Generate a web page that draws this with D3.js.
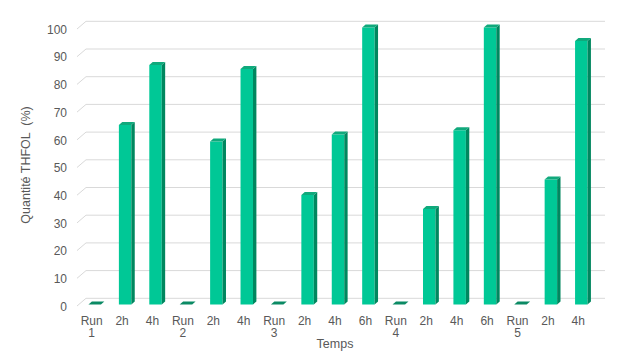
<!DOCTYPE html>
<html><head><meta charset="utf-8">
<script src="https://cdn.jsdelivr.net/npm/d3@7"></script>
<style>
html,body{margin:0;padding:0;background:#fff;}
svg{display:block;font-family:"Liberation Sans",Arial,sans-serif;}
</style></head>
<body>
<svg id="chart" width="620" height="360"></svg>
<script>
// ---- data ----
const categories = ["Run 1","2h","4h","Run 2","2h","4h","Run 3","2h","4h","6h","Run 4","2h","4h","6h","Run 5","2h","4h"];
const values = [0, 64.8, 86.5, 0, 58.8, 85, 0, 39.5, 61.4, 100, 0, 34.5, 62.9, 100, 0, 45.1, 95.1];
const yTicks = [0,10,20,30,40,50,60,70,80,90,100];
const yTitle = "Quantité THFOL  (%)";
const xTitle = "Temps";

// ---- layout ----
const svg = d3.select("#chart");
const DX = 9, DY = -7.7;          // depth of the floor/back wall
const BDX = 3, BDY = -1.5;        // bar position inside the depth
const BW = 3.4, BH = -3;          // bar depth (side/top)
const x = d3.scaleBand().domain(d3.range(categories.length)).range([76.5, 593.5]).padding(0);
const y = d3.scaleLinear().domain([0,100]).range([306, 29]);
const x0 = 77, x1 = 596;

// gridlines (back wall + left diagonal)
const grid = svg.append("g");
yTicks.forEach(t => {
  const yy = y(t);
  grid.append("path")
    .attr("d", `M${x0},${yy}L${x0+DX},${yy+DY}L${x1+DX},${yy+DY}`)
    .attr("fill","none").attr("stroke","#d9d9d9").attr("stroke-width",1);
});

// y axis labels
const yAxis = d3.axisLeft(y).tickValues(yTicks).tickSize(0).tickPadding(0);
const gy = svg.append("g").attr("transform","translate(67,0)").call(yAxis);
gy.select(".domain").remove();
gy.selectAll("text").attr("fill","#595959").style("font-size","12px").attr("dy","0.35em");

// x axis labels (multi-line)
const xAxis = d3.axisBottom(x).tickSize(0).tickPadding(0).tickFormat(i => categories[i]);
const gx = svg.append("g").attr("transform","translate(0,316)").call(xAxis);
gx.select(".domain").remove();
gx.selectAll("text").each(function(i){
  const t = d3.select(this);
  const parts = categories[i].split(" ");
  t.text(null).attr("fill","#595959").style("font-size","12px").attr("y",0).attr("dy",null);
  parts.forEach((p,k) => t.append("tspan").attr("x",0).attr("dy", k===0 ? "0.71em" : "1.05em").text(p));
});

// bars
const bars = svg.append("g");
values.forEach((v,i) => {
  const bw = x.bandwidth()*0.41;
  const cx = x(i) + x.bandwidth()/2 + BDX;
  const l = cx - bw/2, r = cx + bw/2;
  const yb = y(0) + BDY, yt = y(v) + BDY;
  const g = bars.append("g");
  if (v > 0) {
    g.append("path").attr("d",`M${l},${yb}L${r},${yb}L${r},${yt}L${l},${yt}Z`).attr("fill","#00c896");
    g.append("path").attr("d",`M${r},${yb}L${r+BW},${yb+BH}L${r+BW},${yt+BH}L${r},${yt}Z`).attr("fill","#00875f");
    g.append("path").attr("d",`M${l},${yt}L${r},${yt}L${r+BW},${yt+BH}L${l+BW},${yt+BH}Z`).attr("fill","#10a97c");
  } else {
    g.append("path").attr("d",`M${l},${yt}L${r},${yt}L${r+BW},${yt+BH}L${l+BW},${yt+BH}Z`).attr("fill","#0b8a64");
  }
});

// titles
svg.append("text").attr("x",335).attr("y",348).attr("text-anchor","middle")
  .attr("fill","#595959").style("font-size","12.5px").text(xTitle);
svg.append("text").attr("transform","translate(30,165) rotate(-90)").attr("text-anchor","middle")
  .attr("fill","#595959").style("font-size","12.5px").style("white-space","pre").text(yTitle);
</script>
</body></html>
